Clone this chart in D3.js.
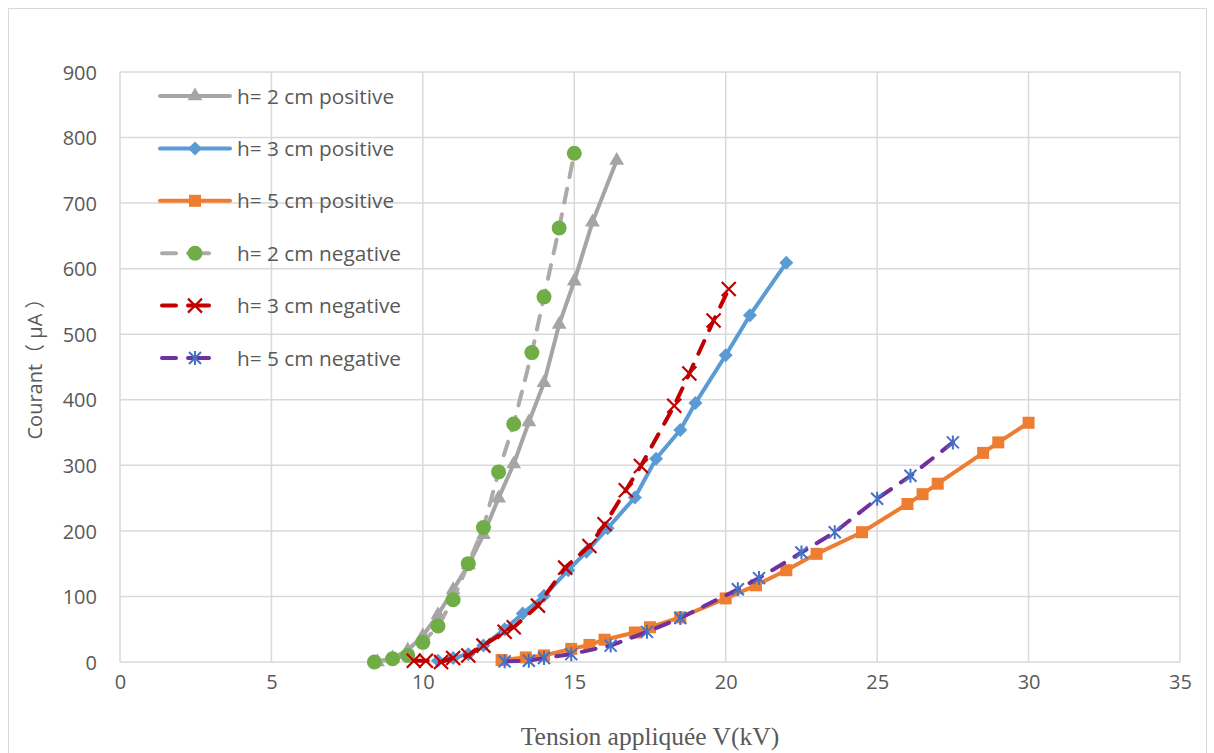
<!DOCTYPE html>
<html>
<head>
<meta charset="utf-8">
<script src="https://cdn.jsdelivr.net/npm/d3@7"></script>
<style>
  html, body { margin: 0; padding: 0; background: #fff; }
  svg { display: block; }
</style>
</head>
<body>
<svg id="chart" width="1214" height="753"></svg>
<script>
// Voltage (kV) and current (µA) for each gap height and polarity
const v2pos = [8.5, 9.0, 9.5, 10.0, 10.5, 11.0, 11.5, 12.0, 12.5, 13.0, 13.5, 14.0, 14.5, 15.0, 15.6, 16.4];
const i2pos = [0, 6, 18, 40, 72, 110, 148, 194, 250, 302, 366, 426, 515, 581, 671, 765];

const v3pos = [10.5, 11.0, 11.5, 12.0, 12.7, 13.3, 14.0, 14.8, 15.4, 16.1, 17.0, 17.7, 18.5, 19.0, 20.0, 20.8, 22.0];
const i3pos = [2, 6, 12, 25, 50, 74, 101, 140, 168, 204, 251, 310, 354, 395, 468, 529, 609];

const v5pos = [12.6, 13.4, 14.0, 14.9, 15.5, 16.0, 17.0, 17.5, 18.5, 20.0, 21.0, 22.0, 23.0, 24.5, 26.0, 26.5, 27.0, 28.5, 29.0, 30.0];
const i5pos = [3, 7, 10, 20, 26, 34, 45, 53, 68, 97, 117, 140, 165, 198, 241, 256, 272, 319, 335, 365];

const v2neg = [8.4, 9.0, 9.5, 10.0, 10.5, 11.0, 11.5, 12.0, 12.5, 13.0, 13.6, 14.0, 14.5, 15.0];
const i2neg = [0, 5, 10, 30, 55, 95, 150, 205, 290, 363, 472, 557, 662, 776];

const v3neg = [9.7, 10.1, 10.6, 11.0, 11.5, 12.0, 12.7, 13.0, 13.8, 14.7, 15.5, 16.0, 16.7, 17.2, 18.3, 18.8, 19.6, 20.1];
const i3neg = [2, 2, 0, 6, 10, 25, 46, 53, 86, 144, 177, 210, 262, 299, 391, 440, 521, 569];

const v5neg = [12.7, 13.5, 14.0, 14.9, 16.2, 17.4, 18.5, 20.4, 21.1, 22.5, 23.6, 25.0, 26.1, 27.5];
const i5neg = [1, 2, 6, 12, 25, 46, 67, 111, 128, 167, 198, 249, 284, 335];

const seriesNames = ["h= 2 cm positive", "h= 3 cm positive", "h= 5 cm positive",
                     "h= 2 cm negative", "h= 3 cm negative", "h= 5 cm negative"];

const xTicks = [0, 5, 10, 15, 20, 25, 30, 35];
const yTicks = [0, 100, 200, 300, 400, 500, 600, 700, 800, 900];

const xTitle = "Tension appliquée V(kV)";
const yTitle = "Courant（ µA ）";

// Series styling: line colour, dash, marker shape and marker colour
const series = [
  { name: seriesNames[0], v: v2pos, i: i2pos, line: "#A5A5A5", dash: null, marker: "triangle", mcolor: "#A5A5A5" },
  { name: seriesNames[1], v: v3pos, i: i3pos, line: "#5B9BD5", dash: null, marker: "diamond", mcolor: "#5B9BD5" },
  { name: seriesNames[2], v: v5pos, i: i5pos, line: "#ED7D31", dash: null, marker: "square", mcolor: "#ED7D31" },
  { name: seriesNames[3], v: v2neg, i: i2neg, line: "#AEAAAA", dash: "14,12", marker: "circle", mcolor: "#70AD47" },
  { name: seriesNames[4], v: v3neg, i: i3neg, line: "#C00000", dash: "14,12", marker: "x", mcolor: "#C00000" },
  { name: seriesNames[5], v: v5neg, i: i5neg, line: "#7030A0", dash: "14,12", marker: "star", mcolor: "#4472C4" }
];

const svg = d3.select("#chart");
const textColor = "#595959";
const gridColor = "#D9D9D9";

// Chart frame
svg.append("rect")
  .attr("x", 8.5).attr("y", 8.5)
  .attr("width", 1198).attr("height", 760)
  .attr("fill", "#fff").attr("stroke", gridColor).attr("stroke-width", 1);

const x = d3.scaleLinear().domain([0, 35]).range([120, 1180]);
const y = d3.scaleLinear().domain([0, 900]).range([662, 72]);

// Gridlines
const grid = svg.append("g");
grid.selectAll("line.h").data(yTicks).join("line")
  .attr("class", "h")
  .attr("x1", x(0)).attr("x2", x(35))
  .attr("y1", d => y(d)).attr("y2", d => y(d))
  .attr("stroke", gridColor).attr("stroke-width", 1.5);
grid.selectAll("line.v").data(xTicks).join("line")
  .attr("class", "v")
  .attr("x1", d => x(d)).attr("x2", d => x(d))
  .attr("y1", y(0)).attr("y2", y(900))
  .attr("stroke", gridColor).attr("stroke-width", 1.5);

// Axes (labels only; the lines come from the grid)
const fontSans = "'Open Sans', 'Noto Sans', sans-serif";
const xAxis = svg.append("g")
  .attr("transform", `translate(0,${y(0)})`)
  .call(d3.axisBottom(x).tickValues(xTicks).tickSize(0).tickPadding(0).tickFormat(d3.format("d")));
xAxis.select(".domain").remove();
xAxis.selectAll("text")
  .attr("y", 13).attr("dy", "0.71em")
  .attr("fill", textColor).attr("font-size", 20).attr("font-family", fontSans);

const yAxis = svg.append("g")
  .attr("transform", `translate(${x(0)},0)`)
  .call(d3.axisLeft(y).tickValues(yTicks).tickSize(0).tickPadding(0).tickFormat(d3.format("d")));
yAxis.select(".domain").remove();
yAxis.selectAll("text")
  .attr("x", -23).attr("dy", "0.36em")
  .attr("fill", textColor).attr("font-size", 20).attr("font-family", fontSans);

// Axis titles
svg.append("text")
  .attr("x", 650).attr("y", 745)
  .attr("text-anchor", "middle")
  .attr("font-family", "'Liberation Serif', 'Times New Roman', serif")
  .attr("font-size", 25.5)
  .attr("fill", textColor)
  .text(xTitle);

svg.append("text")
  .attr("transform", "translate(42,364) rotate(-90)")
  .attr("text-anchor", "middle")
  .attr("font-family", fontSans + ", 'Noto Sans CJK SC'")
  .attr("font-size", 20)
  .attr("fill", textColor)
  .text(yTitle);

// Marker drawing
function drawMarker(g, type, color) {
  switch (type) {
    case "triangle":
      g.append("path").attr("d", d3.symbol(d3.symbolTriangle, 95)()).attr("fill", color);
      break;
    case "diamond":
      g.append("path").attr("d", "M0,-7L7,0L0,7L-7,0Z").attr("fill", color);
      break;
    case "square":
      g.append("rect").attr("x", -6).attr("y", -6).attr("width", 12).attr("height", 12).attr("fill", color);
      break;
    case "circle":
      g.append("circle").attr("r", 7.5).attr("fill", color);
      break;
    case "x":
      g.append("path").attr("d", "M-7,-7L7,7M-7,7L7,-7")
        .attr("stroke", color).attr("stroke-width", 2.2).attr("fill", "none");
      break;
    case "star":
      g.append("path").attr("d", "M-6,-6L6,6M-6,6L6,-6M0,-7L0,7")
        .attr("stroke", color).attr("stroke-width", 2).attr("fill", "none");
      break;
  }
}

const line = d3.line().x(d => x(d[0])).y(d => y(d[1]));

// Each series: line then its markers, in series order
series.forEach(s => {
  const pts = s.v.map((v, k) => [v, s.i[k]]);
  const g = svg.append("g");
  g.append("path")
    .attr("d", line(pts))
    .attr("fill", "none")
    .attr("stroke", s.line)
    .attr("stroke-width", 4)
    .attr("stroke-linejoin", "round")
    .attr("stroke-linecap", s.dash ? "round" : "butt")
    .attr("stroke-dasharray", s.dash);
  g.selectAll("g.m").data(pts).join("g")
    .attr("class", "m")
    .attr("transform", d => `translate(${x(d[0])},${y(d[1])})`)
    .each(function () { drawMarker(d3.select(this), s.marker, s.mcolor); });
});

// Legend
const legend = svg.append("g");
series.forEach((s, k) => {
  const ly = 96 + k * 52.4;
  const lg = legend.append("g").attr("transform", `translate(0,${ly})`);
  if (s.dash) {
    lg.append("line").attr("x1", 162).attr("x2", 176).attr("y1", 0).attr("y2", 0)
      .attr("stroke", s.line).attr("stroke-width", 4).attr("stroke-linecap", "round");
    lg.append("line").attr("x1", 188).attr("x2", 209).attr("y1", 0).attr("y2", 0)
      .attr("stroke", s.line).attr("stroke-width", 4).attr("stroke-linecap", "round");
  } else {
    lg.append("line").attr("x1", 160).attr("x2", 230).attr("y1", 0).attr("y2", 0)
      .attr("stroke", s.line).attr("stroke-width", 4).attr("stroke-linecap", "round");
  }
  const mg = lg.append("g").attr("transform", "translate(195,0)");
  drawMarker(mg, s.marker, s.mcolor);
  lg.append("text")
    .attr("x", 237).attr("dy", "0.36em")
    .attr("font-family", fontSans).attr("font-size", 20.8)
    .attr("fill", textColor)
    .text(s.name);
});
</script>
</body>
</html>
